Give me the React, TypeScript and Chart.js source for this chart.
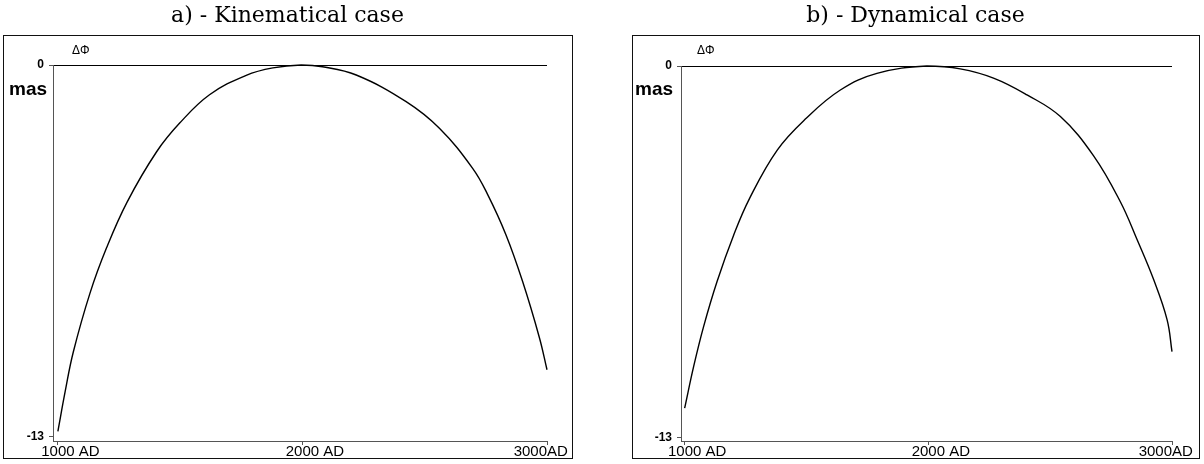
import React, { useEffect, useRef } from "react";
import { Chart, registerables } from "chart.js";

Chart.register(...registerables);

// ---- data ----
const kinYears = [1000, 1030, 1063, 1131, 1199, 1283, 1403, 1498, 1620, 1770, 1879, 1995, 2082, 2220, 2424, 2560, 2696, 2757, 2832, 2900, 2969, 3000];
const kinValues = [-12.8, -11.4, -10.03, -7.98, -6.39, -4.79, -3.04, -2.03, -1.04, -0.36, -0.1, 0, -0.06, -0.35, -1.28, -2.21, -3.61, -4.52, -5.93, -7.56, -9.53, -10.65];

const dynYears = [1000, 1037, 1078, 1133, 1201, 1266, 1380, 1500, 1639, 1789, 1994, 2131, 2270, 2405, 2542, 2679, 2788, 2857, 2925, 2980, 3000];
const dynValues = [-11.97, -10.51, -9.11, -7.54, -5.92, -4.64, -2.94, -1.82, -0.84, -0.26, 0, -0.1, -0.43, -1.01, -1.77, -3.15, -4.75, -6.08, -7.48, -8.88, -9.99];

const xTickValues = [1000, 2000, 3000];
const xTickLabels = ["1000 AD", "2000 AD", "3000AD"];
const yTickValues = [0, -13];
const yTickLabels = ["0", "-13"];
const panelTitles = ["a) - Kinematical case", "b) - Dynamical case"];
const yName = "ΔΦ";
const yUnit = "mas";

type Panel = {
  left: number;
  width: number;
  axisLeft: number;
  top: number;
  bottom: number;
  right: number;
  xMin: number;
  yMin: number;
  frameW: number;
  nameX: number;
  masX: number;
  title: string;
  years: number[];
  values: number[];
};

const H = 464;

const panels: Panel[] = [
  { left: 0, width: 575, axisLeft: 53, top: 65, bottom: 441, right: 547, xMin: 980, yMin: -13.14, frameW: 569, nameX: 72, masX: 9, title: panelTitles[0], years: kinYears, values: kinValues },
  { left: 629, width: 573, axisLeft: 52, top: 66, bottom: 441, right: 543, xMin: 985, yMin: -13.12, frameW: 567, nameX: 68, masX: 6, title: panelTitles[1], years: dynYears, values: dynValues },
];

function PanelChart({ p }: { p: Panel }) {
  const ref = useRef<HTMLCanvasElement | null>(null);
  useEffect(() => {
    if (!ref.current) return;
    const decor = {
      id: "decor",
      afterDraw(chart: any) {
        const ctx = chart.ctx as CanvasRenderingContext2D;
        ctx.save();
        // frame
        ctx.strokeStyle = "#111";
        ctx.lineWidth = 1;
        ctx.strokeRect(3.5, 35.5, p.frameW, 423);
        // title
        ctx.fillStyle = "#000";
        ctx.font = '22px "DejaVu Serif"';
        ctx.textAlign = "center";
        ctx.textBaseline = "alphabetic";
        ctx.fillText(p.title, p.width / 2, 22);
        // axis name and unit
        ctx.textAlign = "left";
        ctx.font = '12px "Liberation Sans"';
        ctx.fillText(yName, p.nameX, 54);
        ctx.font = 'bold 19px "Liberation Sans"';
        ctx.fillText(yUnit, p.masX, 95);
        // x tick labels
        const xs = chart.scales.x;
        ctx.font = '15px "Liberation Sans"';
        xTickValues.forEach((v, i) => {
          const px = xs.getPixelForValue(v);
          const lab = xTickLabels[i];
          const num = lab.replace(/[^0-9]/g, "");
          const nw = ctx.measureText(num).width;
          const last = i === xTickValues.length - 1;
          const sx = last ? px - nw : px - nw / 2;
          ctx.fillText(lab, sx, 456);
        });
        ctx.restore();
      },
    };
    const chart = new Chart(ref.current, {
      type: "line",
      data: {
        datasets: [
          {
            data: p.years.map((x, i) => ({ x, y: p.values[i] })),
            borderColor: "#000",
            borderWidth: 1.4,
            pointRadius: 0,
            tension: 0.4,
            fill: false,
            clip: 3,
          } as any,
        ],
      },
      options: {
        animation: false,
        responsive: false,
        devicePixelRatio: 1,
        layout: { padding: { left: 0, top: p.top, right: p.width - p.right, bottom: 0 } },
        plugins: { legend: { display: false }, tooltip: { enabled: false }, title: { display: false } },
        scales: {
          x: {
            type: "linear",
            min: p.xMin,
            max: 3000,
            afterBuildTicks: (s: any) => {
              s.ticks = xTickValues.map((v) => ({ value: v }));
            },
            afterFit: (s: any) => {
              s.height = H - p.bottom;
            },
            ticks: { display: false },
            grid: { drawOnChartArea: false, drawTicks: true, tickLength: 4, tickColor: "#555" },
            border: { display: true, color: "#555", width: 1 },
          },
          y: {
            type: "linear",
            min: p.yMin,
            max: 0,
            afterBuildTicks: (s: any) => {
              s.ticks = yTickValues.map((v) => ({ value: v }));
            },
            afterFit: (s: any) => {
              s.width = p.axisLeft;
            },
            ticks: {
              autoSkip: false,
              padding: 5,
              color: "#000",
              font: { family: "Liberation Sans", size: 12, weight: "bold" },
              callback: (_v: any, i: number) => yTickLabels[i],
            },
            grid: {
              drawOnChartArea: true,
              drawTicks: true,
              tickLength: 4,
              tickColor: "#555",
              color: (c: any) => (c.tick && c.tick.value === 0 ? "#000" : "rgba(0,0,0,0)"),
            },
            border: { display: true, color: "#555", width: 1 },
          },
        },
      } as any,
      plugins: [decor],
    });
    return () => chart.destroy();
  }, [p]);
  return (
    <canvas
      ref={ref}
      width={p.width}
      height={H}
      style={{ position: "absolute", left: p.left, top: 0, width: p.width, height: H }}
    />
  );
}

export default function App() {
  return (
    <div style={{ position: "fixed", left: 0, top: 0, width: 1204, height: H, background: "#fff" }}>
      {panels.map((p, i) => (
        <PanelChart key={i} p={p} />
      ))}
    </div>
  );
}
